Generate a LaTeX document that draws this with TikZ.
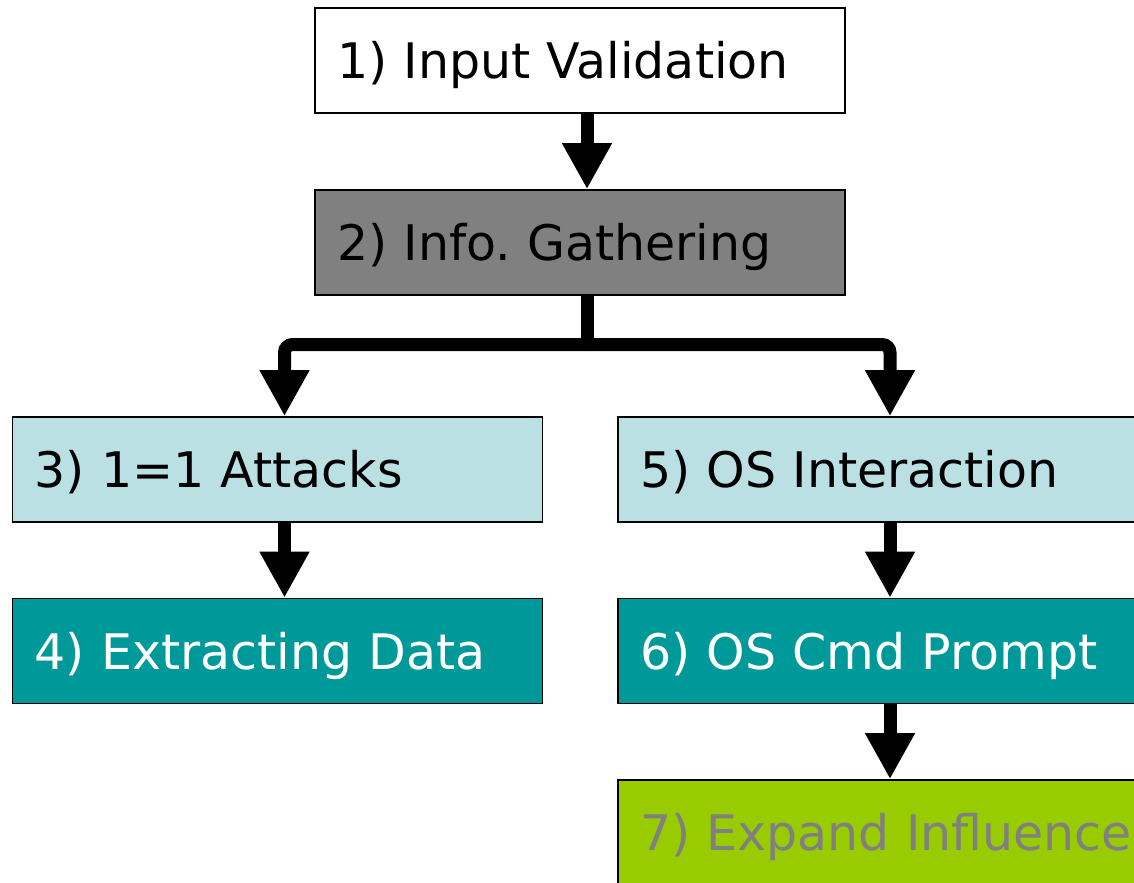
\documentclass[tikz,border=0pt]{standalone}
\usepackage{fontspec}
\setmainfont{DejaVu Sans}
\usetikzlibrary{arrows.meta}
\frenchspacing
\definecolor{boxgray}{HTML}{808080}
\definecolor{boxlight}{HTML}{BBE0E3}
\definecolor{boxteal}{HTML}{009999}
\definecolor{boxlime}{HTML}{99CC00}
\tikzset{
  stepbox/.style={draw=black, line width=1.2pt, minimum width=397.5pt, minimum height=78.75pt,
    inner xsep=16.5pt, text width=364.5pt, align=left, text height=27pt, text depth=0pt,
    font=\fontsize{36.75pt}{44pt}\selectfont},
  shaft/.style={line width=9.75pt},
  flow/.style={shaft, -{Triangle[length=34.5pt,width=35pt]}},
}
\begin{document}
\begin{tikzpicture}[x=0.75pt,y=0.75pt,yscale=-1,xscale=1]
    %set diagram size to 1134 x 882
    \fill[white] (0,0) rectangle (1134,882);
    \useasboundingbox (0,0) rectangle (1134,882);
    % Step Boxes
    \node [stepbox, fill=white] (input) at (580,60.5) {1) Input Validation};
    \node [stepbox, fill=boxgray] (info) at (580,242.5) {2) Info. Gathering};
    \node [stepbox, fill=boxlight] (attack) at (277.5,469.5) {3) 1=1 Attacks};
    \node [stepbox, fill=boxteal, text=white] (extract) at (277.5,651) {4) Extracting Data};
    \node [stepbox, fill=boxlight] (osint) at (883,469.5) {5) OS Interaction};
    \node [stepbox, fill=boxteal, text=white] (oscmd) at (883,651) {6) OS Cmd Prompt};
    \node [stepbox, fill=boxlime, text=boxgray] (expand) at (883,832.5) {\mbox{7) Expand Influence}};
    % Split point below box 2
    \coordinate (split) at (587,344.5);
    % Arrows
    \draw [flow] ([xshift=5.25pt]input.south) -- ([xshift=5.25pt]info.north);
    \draw [shaft] ([xshift=5.25pt]info.south) -- (split);
    \draw [flow, rounded corners=6pt] (split) -| ([xshift=5.25pt]attack.north);
    \draw [flow, rounded corners=6pt] (split) -| ([xshift=5.25pt]osint.north);
    \draw [flow] ([xshift=5.25pt]attack.south) -- ([xshift=5.25pt]extract.north);
    \draw [flow] ([xshift=5.25pt]osint.south) -- ([xshift=5.25pt]oscmd.north);
    \draw [flow] ([xshift=5.25pt]oscmd.south) -- ([xshift=5.25pt]expand.north);
\end{tikzpicture}
\end{document}
